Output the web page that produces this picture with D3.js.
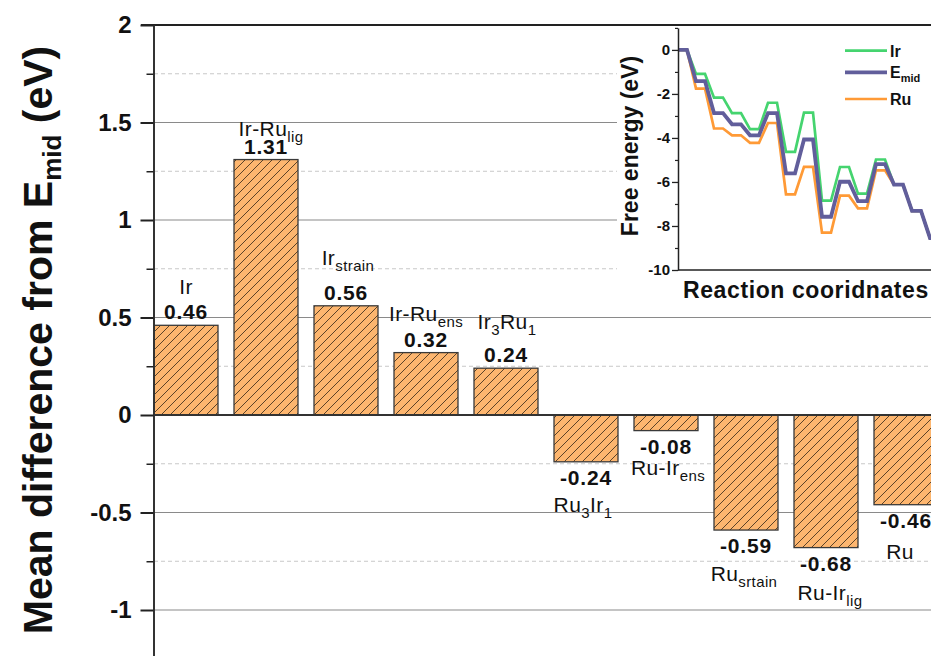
<!DOCTYPE html>
<html><head><meta charset="utf-8">
<script src="https://cdn.jsdelivr.net/npm/d3@7"></script>
<style>body{margin:0;background:#fff}svg{display:block;font-family:Arial,"Liberation Sans",sans-serif}</style>
</head><body><svg id="c" width="931" height="656"></svg>
<script>
// ---------- data ----------
const categories = ["Ir","Ir-Ru_{lig}","Ir_{strain}","Ir-Ru_{ens}","Ir_{3}Ru_{1}","Ru_{3}Ir_{1}","Ru-Ir_{ens}","Ru_{srtain}","Ru-Ir_{lig}","Ru"];
const values = [0.46,1.31,0.56,0.32,0.24,-0.24,-0.08,-0.59,-0.68,-0.46];
const yTickValues = [-1,-0.5,0,0.5,1,1.5,2];
const yMinorValues = [-1.25,-0.75,-0.25,0.25,0.75,1.25,1.75];

const steps = [0,1,2,3,4,5,6,7,8,9,10,11,12,13,14];
const energyIr   = [0,-1.09,-2.17,-2.87,-3.60,-2.40,-4.63,-2.85,-6.85,-5.32,-6.53,-4.98,-6.12,-7.31,-8.55];
const energyEmid = [0,-1.42,-2.87,-3.38,-3.88,-2.87,-5.61,-4.07,-7.58,-5.99,-6.87,-5.19,-6.12,-7.31,-8.55];
const energyRu   = [0,-1.76,-3.57,-3.88,-4.22,-3.32,-6.56,-5.31,-8.30,-6.62,-7.20,-5.47,-6.12,-7.31,-8.55];
const legendNames = ["Ir","E_{mid}","Ru"];
const insetTicks = [0,-2,-4,-6,-8,-10];
const insetMinor = [1,-1,-3,-5,-7,-9];

// ---------- layout tweaks (label placement) ----------
const nameGap = [25,18,35,26,33,27,21,28,29,31];
const nameDx  = [0,5,2,0,1,-3,2,-2,4,-6];

const svg = d3.select("#c");
const W = 931;
const loc = d3.formatLocale({decimal:".",thousands:",",grouping:[3],currency:["",""],minus:"-"});

function parse(s){
  const out=[]; const re=/_\{([^}]*)\}|([^_]+)/g; let m;
  while((m=re.exec(s))){ if(m[1]!==undefined) out.push({t:m[1],sub:true}); else out.push({t:m[2],sub:false}); }
  return out;
}
function richText(sel, s, subSize, shift){
  let prevSub=false;
  parse(s).forEach(p=>{
    const ts = sel.append("tspan").text(p.t);
    if(p.sub){ ts.attr("font-size",subSize).attr("dy", prevSub?0:shift); }
    else if(prevSub){ ts.attr("dy",-shift); }
    prevSub=p.sub;
  });
}

// ---------- scales ----------
const x = d3.scaleBand().domain(categories).range([154,938]).paddingInner(0.2).paddingOuter(0);
const y = d3.scaleLinear().domain([-1.25,2]).range([658.75,25]);

// ---------- pattern ----------
const defs = svg.append("defs");
const pat = defs.append("pattern").attr("id","hatch").attr("patternUnits","userSpaceOnUse").attr("width",9).attr("height",9);
pat.append("rect").attr("width",9).attr("height",9).attr("fill","#fdb66f");
pat.append("path").attr("d","M-2,2 L2,-2 M0,9 L9,0 M7,11 L11,7").attr("stroke","#4a3520").attr("stroke-width",0.9);

// ---------- gridlines ----------
svg.append("g").selectAll("line").data(yMinorValues).join("line")
  .attr("x1",154).attr("x2",W).attr("y1",d=>y(d)).attr("y2",d=>y(d))
  .attr("stroke","#c8c8c8").attr("stroke-width",1).attr("stroke-dasharray","4,3");
svg.append("g").selectAll("line").data(yTickValues.filter(d=>d!==0&&d!==2)).join("line")
  .attr("x1",154).attr("x2",W).attr("y1",d=>y(d)).attr("y2",d=>y(d))
  .attr("stroke","#8a8a8a").attr("stroke-width",1.2);

// ---------- bars ----------
svg.append("g").selectAll("rect").data(values).join("rect")
  .attr("x",(d,i)=>x(categories[i])).attr("width",x.bandwidth())
  .attr("y",d=>y(Math.max(0,d))).attr("height",d=>Math.abs(y(d)-y(0)))
  .attr("fill","url(#hatch)").attr("stroke","#3a3a3a").attr("stroke-width",1.3);

// zero line & top frame
svg.append("line").attr("x1",154).attr("x2",W).attr("y1",y(0)).attr("y2",y(0)).attr("stroke","#333").attr("stroke-width",2);
svg.append("line").attr("x1",141).attr("x2",W).attr("y1",y(2)).attr("y2",y(2)).attr("stroke","#222").attr("stroke-width",2);

// value labels
const fmt = loc.format(".2f");
svg.append("g").selectAll("text").data(values).join("text")
  .attr("x",(d,i)=>x(categories[i])+x.bandwidth()/2)
  .attr("y",d=>d>=0? y(d)-6 : y(d)+23.4)
  .attr("text-anchor","middle").attr("font-size",21).attr("font-weight","bold").attr("letter-spacing",0.8)
  .attr("fill","#111").text(d=>fmt(d));

// name labels
values.forEach((d,i)=>{
  const vb = d>=0? y(d)-6 : y(d)+23.4;
  const t = svg.append("text")
    .attr("x",x(categories[i])+x.bandwidth()/2+nameDx[i])
    .attr("y", d>=0? vb-nameGap[i] : vb+nameGap[i])
    .attr("text-anchor","middle").attr("font-size",21).attr("letter-spacing",0.4).attr("fill","#111");
  richText(t, categories[i], 15, 6);
});

// ---------- y axis ----------
const ax = svg.append("g").attr("transform","translate(153.5,0)")
  .call(d3.axisLeft(y).tickValues(yTickValues).tickSize(13).tickSizeOuter(0).tickPadding(9).tickFormat(d=>String(d)));
ax.select(".domain").attr("stroke","#333").attr("stroke-width",2);
ax.selectAll(".tick line").attr("stroke","#222").attr("stroke-width",2);
ax.selectAll(".tick text").attr("font-size",24).attr("font-weight","bold").attr("fill","#111").attr("font-family","Arial, Liberation Sans, sans-serif");
const axm = svg.append("g").attr("transform","translate(153.5,0)")
  .call(d3.axisLeft(y).tickValues(yMinorValues).tickSize(7).tickFormat(""));
axm.select(".domain").remove();
axm.selectAll(".tick line").attr("stroke","#222").attr("stroke-width",1.5);

// y title
const yt = svg.append("text").attr("transform","translate(52,340) rotate(-90)")
  .attr("text-anchor","middle").attr("font-size",41).attr("font-weight","bold").attr("fill","#111");
yt.append("tspan").text("Mean difference from E");
yt.append("tspan").text("mid").attr("font-size",26).attr("dy",9);
yt.append("tspan").text(" (eV)").attr("dy",-9);

// ---------- inset ----------
const inset = svg.append("g");
inset.append("rect").attr("x",617).attr("y",27).attr("width",W-617).attr("height",279).attr("fill","#fff");
const ix = d3.scaleLinear().domain([0,14.5]).range([678,678+14.5*18]);
const iy = d3.scaleLinear().domain([-10,1]).range([270,27.9]);
const line = d3.line();
function pts(arr){ const p=[]; steps.forEach((s,i)=>{ p.push([ix(s),iy(arr[i])]); p.push([ix(s+0.5),iy(arr[i])]); }); return p; }
const series = [
  {name:legendNames[0], data:energyIr, color:"#45d46f", w:2.7},
  {name:legendNames[2], data:energyRu, color:"#ff9a36", w:2.7},
  {name:legendNames[1], data:energyEmid, color:"#615e9b", w:3.8}
];
series.forEach(s=>{
  inset.append("path").attr("d",line(pts(s.data))).attr("fill","none").attr("stroke",s.color).attr("stroke-width",s.w).attr("stroke-linejoin","miter");
});
const iax = inset.append("g").attr("transform","translate(678,0)")
  .call(d3.axisLeft(iy).tickValues(insetTicks).tickSize(6).tickSizeOuter(0).tickPadding(2).tickFormat(d=>String(d)));
iax.select(".domain").attr("stroke","#222").attr("stroke-width",1.5);
iax.selectAll(".tick line").attr("stroke","#222").attr("stroke-width",1.3);
iax.selectAll(".tick text").attr("font-size",15).attr("font-weight","bold").attr("fill","#111").attr("font-family","Arial, Liberation Sans, sans-serif");
const iaxm = inset.append("g").attr("transform","translate(678,0)")
  .call(d3.axisLeft(iy).tickValues(insetMinor).tickSize(3).tickFormat(""));
iaxm.select(".domain").remove();
iaxm.selectAll(".tick line").attr("stroke","#222").attr("stroke-width",1.2);
inset.append("line").attr("x1",678).attr("x2",W).attr("y1",270).attr("y2",270).attr("stroke","#222").attr("stroke-width",1.5);

inset.append("text").attr("transform","translate(638,146) rotate(-90)").attr("text-anchor","middle")
  .attr("font-size",23).attr("font-weight","bold").attr("fill","#111").text("Free energy (eV)");
inset.append("text").attr("x",683).attr("y",298).attr("font-size",23).attr("font-weight","bold").attr("letter-spacing",0.6)
  .attr("fill","#111").text("Reaction cooridnates");

// legend
const legY = [50.7,72.3,99];
const legSeries = [series[0],series[2],series[1]];
legSeries.forEach((s,i)=>{
  inset.append("line").attr("x1",845).attr("x2",887).attr("y1",legY[i]).attr("y2",legY[i]).attr("stroke",s.color).attr("stroke-width",s.w);
  const t = inset.append("text").attr("x",890).attr("y",legY[i]+6).attr("font-size",16).attr("font-weight","bold").attr("fill","#111");
  richText(t, s.name, 11, 4);
});
</script></body></html>
